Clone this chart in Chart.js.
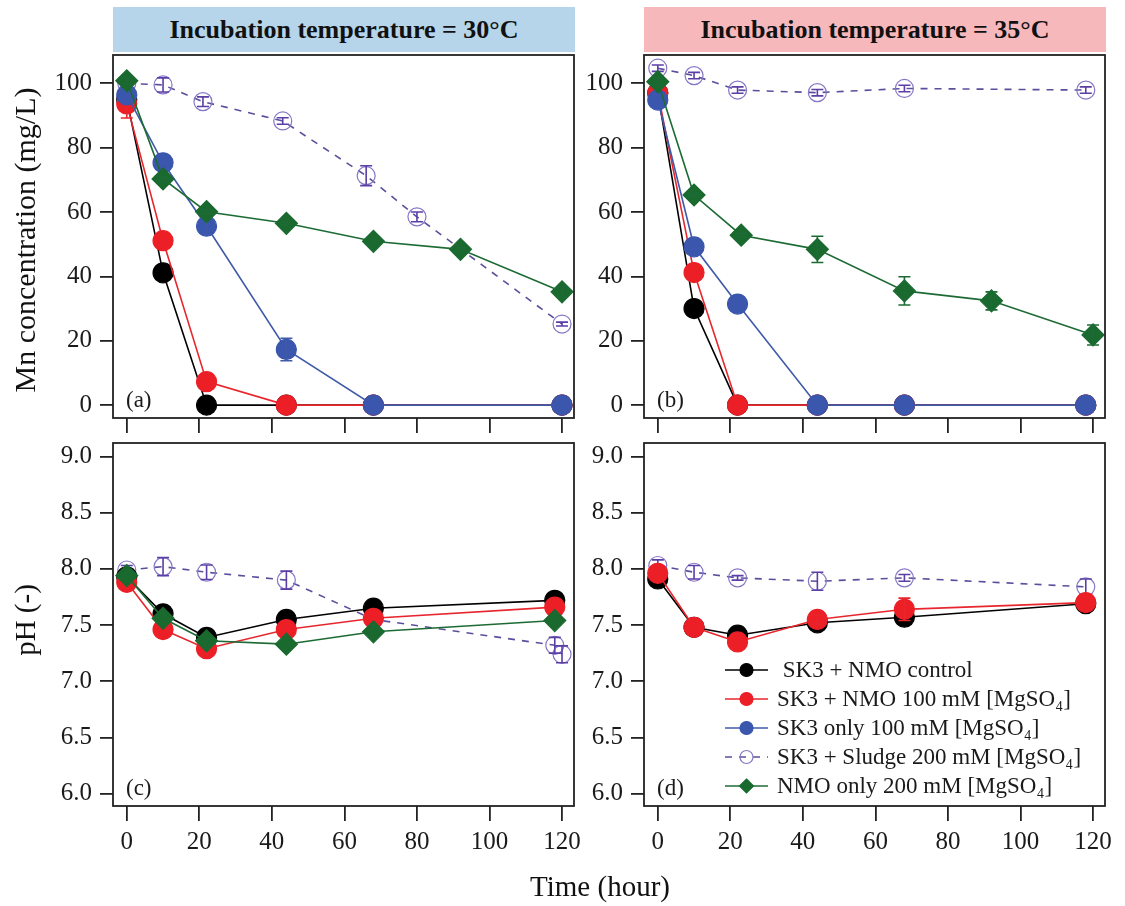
<!DOCTYPE html>
<html>
<head>
<meta charset="utf-8">
<title>Mn removal and pH</title>
<script src="https://cdn.jsdelivr.net/npm/chart.js@4.4.1/dist/chart.umd.min.js"></script>
<style>
  body { margin: 0; background: #fff; font-family: "Liberation Serif", "Times New Roman", serif; }
  #page { position: relative; width: 1125px; height: 906px; overflow: hidden; }
  canvas { position: absolute; left: 0; top: 0; }
  .head { position: absolute; top: 7px; height: 45px; width: 462px; line-height: 45px;
          text-align: center; font-weight: bold; font-size: 26px; color: #111; }
  .axis-title { position: absolute; font-size: 29px; color: #111; white-space: nowrap;
                transform: translate(-50%, -50%); }
  .vert { transform: translate(-50%, -50%) rotate(-90deg); }
</style>
</head>
<body>
<div id="page">
  <div class="head" id="head30" style="left:113px;background:#b6d5ea"></div>
  <div class="head" id="head35" style="left:644px;background:#f7b8bc"></div>
  <canvas id="mn30" width="1125" height="906"></canvas>
  <canvas id="mn35" width="1125" height="906"></canvas>
  <canvas id="ph30" width="1125" height="906"></canvas>
  <canvas id="ph35" width="1125" height="906"></canvas>
  <div class="axis-title vert" style="left:25px;top:240px;font-size:30px">Mn concentration (mg/L)</div>
  <div class="axis-title vert" style="left:25px;top:620px">pH (-)</div>
  <div class="axis-title" style="left:600px;top:886px">Time (hour)</div>
</div>
<script>
// ============ DATA ============

const headers = ["Incubation temperature = 30°C", "Incubation temperature = 35°C"];

const timeTicks = [0, 20, 40, 60, 80, 100, 120];
const mnTicks = [0, 20, 40, 60, 80, 100];
const phTicks = [6.0, 6.5, 7.0, 7.5, 8.0, 8.5, 9.0];

// Mn concentration, 30 °C
const mn30Time = [0, 10, 22, 44, 68, 120];
const mn30Control = [95, 41.1, 0, 0, 0, 0];
const mn30NmoMg = [93.6, 51.1, 7.3, 0, 0, 0];
const mn30NmoMgErr = [4.4, 0, 0, 0, 0, 0];
const mn30Sk3Mg = [96.4, 75.3, 55.6, 17.3, 0, 0];
const mn30Sk3MgErr = [0, 0, 2.5, 3.5, 0, 0];
const mn30SludgeTime = [0, 10, 21, 43, 66, 80, 120];
const mn30Sludge = [100, 99.5, 94.3, 88.3, 71.3, 58.5, 25.2];
const mn30SludgeErr = [1, 2.2, 1.5, 1, 3.1, 1.5, 0.6];
const mn30NmoOnlyTime = [0, 10, 22, 44, 68, 92, 120];
const mn30NmoOnly = [100.8, 70.3, 60.1, 56.5, 50.9, 48.4, 35.2];
const mn30NmoOnlyErr = [1, 0.5, 0.5, 0.5, 0.5, 0.5, 1.5];

// Mn concentration, 35 °C
const mn35Time = [0, 10, 22, 44, 68, 118];
const mn35Control = [97, 30, 0, 0, 0, 0];
const mn35NmoMg = [97, 41.2, 0, 0, 0, 0];
const mn35Sk3Mg = [94.8, 49.2, 31.4, 0, 0, 0];
const mn35Sludge = [104.7, 102.4, 97.9, 97.1, 98.4, 97.9];
const mn35SludgeErr = [1, 1, 1, 1, 1, 1];
const mn35NmoOnlyTime = [0, 10, 23, 44, 68, 92, 120];
const mn35NmoOnly = [100.5, 65.3, 52.8, 48.4, 35.5, 32.4, 21.8];
const mn35NmoOnlyErr = [1, 0.5, 0.5, 4.1, 4.4, 2.8, 3.1];

// pH, 30 °C
const ph30Time = [0, 10, 22, 44, 68, 118];
const ph30Control = [7.93, 7.60, 7.39, 7.55, 7.65, 7.72];
const ph30NmoMg = [7.88, 7.46, 7.29, 7.46, 7.56, 7.66];
const ph30NmoOnly = [7.94, 7.56, 7.36, 7.33, 7.44, 7.54];
const ph30SludgeTime = [0, 10, 22, 44, 68, 118, 120];
const ph30Sludge = [7.99, 8.02, 7.97, 7.90, 7.55, 7.32, 7.24];
const ph30SludgeErr = [0.04, 0.08, 0.065, 0.08, 0.03, 0.07, 0.075];

// pH, 35 °C
const ph35Time = [0, 10, 22, 44, 68, 118];
const ph35Control = [7.91, 7.48, 7.41, 7.52, 7.57, 7.69];
const ph35NmoMg = [7.96, 7.48, 7.35, 7.55, 7.64, 7.70];
const ph35NmoMgErr = [0, 0, 0, 0.04, 0.1, 0];
const ph35Sludge = [8.03, 7.97, 7.92, 7.89, 7.92, 7.84];
const ph35SludgeErr = [0.05, 0.06, 0.02, 0.08, 0.03, 0.07];

// ============ STYLES ============

const PAGE_W = 1125, PAGE_H = 906;
const Y_AXIS_W = 70;
const FONT = '"Liberation Serif", "Times New Roman", serif';
const INK = "#1a1a1a";

const styles = {
    control: { label: " SK3 + NMO control", line: "#000000", fill: "#000000", edge: "#000000",
               point: "circle", radius: 10, order: 4 },
    nmoMg: { label: "SK3 + NMO 100 mM [MgSO\u2084]", line: "#e8262d", fill: "#ec1f27", edge: "#ec1f27",
             point: "circle", radius: 10, order: 3 },
    sk3Mg: { label: "SK3 only 100 mM [MgSO\u2084]", line: "#3f5aa8", fill: "#3a56ad", edge: "#3a56ad",
             point: "circle", radius: 10, order: 2 },
    sludge: { label: "SK3 + Sludge 200 mM [MgSO\u2084]", line: "#5a4f9c", fill: "rgba(255,255,255,0)",
              edge: "#8677c6", point: "circle", radius: 9, order: 5, dash: [7, 7], err: "#5b3ea6" },
    nmoOnly: { label: "NMO only 200 mM [MgSO\u2084]", line: "#1d6b34", fill: "#1a6a30", edge: "#1a6a30",
               point: "rectRot", radius: 11, order: 1 },
};
const legendOrder = ["control", "nmoMg", "sk3Mg", "sludge", "nmoOnly"];

const boxes = {
    mn30: { left: 113, right: 574, top: 55, bottom: 418 },
    mn35: { left: 644, right: 1105, top: 55, bottom: 418 },
    ph30: { left: 113, right: 574, top: 443, bottom: 806 },
    ph35: { left: 644, right: 1105, top: 443, bottom: 806 },
};

// ============ PLUGINS ============

// closed frame around the plot plus the panel tag in the lower-left corner
const framePlugin = {
    id: "frame",
    afterDraw(chart, args, opts) {
        const { ctx, chartArea: a } = chart;
        ctx.save();
        ctx.strokeStyle = "#222";
        ctx.lineWidth = 1.8;
        ctx.strokeRect(a.left, a.top, a.right - a.left, a.bottom - a.top);
        ctx.fillStyle = INK;
        ctx.font = "23px " + FONT;
        ctx.textBaseline = "alphabetic";
        ctx.fillText(opts.tag, a.left + 13, a.bottom - 11);
        ctx.restore();
    }
};

// vertical error bars with caps, from the dataset's errors array
const errorBarPlugin = {
    id: "errorBars",
    afterDatasetDraw(chart, args) {
        const ds = chart.data.datasets[args.index];
        if (!ds.errors) return;
        const y = chart.scales.y;
        const ctx = chart.ctx;
        ctx.save();
        ctx.strokeStyle = ds.errorColor;
        ctx.lineWidth = 1.6;
        args.meta.data.forEach((pt, i) => {
            const e = ds.errors[i];
            if (!e) return;
            const v = ds.data[i].y;
            const top = y.getPixelForValue(v + e);
            const bot = y.getPixelForValue(v - e);
            ctx.beginPath();
            ctx.moveTo(pt.x, top); ctx.lineTo(pt.x, bot);
            ctx.moveTo(pt.x - 6, top); ctx.lineTo(pt.x + 6, top);
            ctx.moveTo(pt.x - 6, bot); ctx.lineTo(pt.x + 6, bot);
            ctx.stroke();
        });
        ctx.restore();
    }
};

function drawMarker(ctx, st, x, y, r) {
    ctx.beginPath();
    if (st.point === "rectRot") {
        ctx.moveTo(x, y - r); ctx.lineTo(x + r, y); ctx.lineTo(x, y + r); ctx.lineTo(x - r, y);
        ctx.closePath();
    } else {
        ctx.arc(x, y, r, 0, Math.PI * 2);
    }
    ctx.fillStyle = st.fill;
    ctx.fill();
    ctx.strokeStyle = st.edge;
    ctx.lineWidth = 1.2;
    ctx.stroke();
}

// line + marker legend placed inside the plot area
const legendPlugin = {
    id: "seriesLegend",
    afterDraw(chart, args, opts) {
        const { ctx, chartArea: a } = chart;
        ctx.save();
        ctx.font = "23px " + FONT;
        ctx.textBaseline = "middle";
        legendOrder.forEach((key, i) => {
            const st = styles[key];
            const x0 = a.left + opts.x, x1 = x0 + opts.sample;
            const y = a.top + opts.y + i * opts.row;
            ctx.strokeStyle = st.line;
            ctx.lineWidth = 1.6;
            ctx.setLineDash(st.dash || []);
            ctx.beginPath(); ctx.moveTo(x0, y); ctx.lineTo(x1, y); ctx.stroke();
            ctx.setLineDash([]);
            drawMarker(ctx, st, (x0 + x1) / 2, y, st.point === "rectRot" ? 7 : 6.5);
            ctx.fillStyle = INK;
            ctx.fillText(st.label, x1 + 9, y + 1);
        });
        ctx.restore();
    }
};

// ============ CHARTS ============

function makeDataset(key, time, values, errors) {
    const st = styles[key];
    return {
        label: st.label,
        data: time.map((t, i) => ({ x: t, y: values[i] })),
        errors: errors || null,
        errorColor: st.err || st.line,
        borderColor: st.line,
        borderWidth: 1.6,
        borderDash: st.dash || [],
        pointStyle: st.point,
        pointRadius: st.radius,
        pointBackgroundColor: st.fill,
        pointBorderColor: st.edge,
        pointBorderWidth: 1.2,
        order: st.order,
        tension: 0,
        fill: false,
        clip: false,
    };
}

function makePanel(id, yRange, yTicks, yFormat, showX, datasets, tag, legend) {
    const box = boxes[id];
    const xH = showX ? 60 : 16;
    const tickFont = { family: FONT, size: 25 };
    const plugins = [errorBarPlugin, framePlugin];
    if (legend) plugins.push(legendPlugin);

    return new Chart(document.getElementById(id), {
        type: "line",
        data: { datasets },
        plugins,
        options: {
            responsive: false,
            animation: false,
            devicePixelRatio: 1,
            layout: {
                padding: {
                    left: box.left - Y_AXIS_W,
                    top: box.top,
                    right: PAGE_W - box.right,
                    bottom: PAGE_H - box.bottom - xH,
                }
            },
            scales: {
                x: {
                    type: "linear",
                    min: -3.8,
                    max: 123.3,
                    afterBuildTicks: s => { s.ticks = timeTicks.map(v => ({ value: v })); },
                    afterFit: s => { s.height = xH; },
                    ticks: { display: showX, font: tickFont, color: INK, padding: 6,
                             autoSkip: false, maxRotation: 0 },
                    grid: { drawOnChartArea: false, drawTicks: true, tickLength: 15,
                            color: "#222", lineWidth: 1.8 },
                    border: { display: false },
                },
                y: {
                    type: "linear",
                    min: yRange[0],
                    max: yRange[1],
                    afterBuildTicks: s => { s.ticks = yTicks.map(v => ({ value: v })); },
                    afterFit: s => { s.width = Y_AXIS_W; },
                    ticks: { font: tickFont, color: INK, padding: 8, autoSkip: false,
                             callback: yFormat },
                    grid: { drawOnChartArea: false, drawTicks: true, tickLength: 13,
                            color: "#222", lineWidth: 1.8 },
                    border: { display: false },
                }
            },
            plugins: {
                legend: { display: false },
                tooltip: { enabled: false },
                frame: { tag },
                seriesLegend: legend || {},
            }
        }
    });
}

const mnRange = [-4, 108.8];
const phRange = [5.89, 9.12];
const intLabel = v => String(v);
const phLabel = v => Number(v).toFixed(1);

document.getElementById("head30").textContent = headers[0];
document.getElementById("head35").textContent = headers[1];

makePanel("mn30", mnRange, mnTicks, intLabel, false, [
    makeDataset("control", mn30Time, mn30Control),
    makeDataset("nmoMg", mn30Time, mn30NmoMg, mn30NmoMgErr),
    makeDataset("sk3Mg", mn30Time, mn30Sk3Mg, mn30Sk3MgErr),
    makeDataset("sludge", mn30SludgeTime, mn30Sludge, mn30SludgeErr),
    makeDataset("nmoOnly", mn30NmoOnlyTime, mn30NmoOnly, mn30NmoOnlyErr),
], "(a)");

makePanel("mn35", mnRange, mnTicks, intLabel, false, [
    makeDataset("control", mn35Time, mn35Control),
    makeDataset("nmoMg", mn35Time, mn35NmoMg),
    makeDataset("sk3Mg", mn35Time, mn35Sk3Mg),
    makeDataset("sludge", mn35Time, mn35Sludge, mn35SludgeErr),
    makeDataset("nmoOnly", mn35NmoOnlyTime, mn35NmoOnly, mn35NmoOnlyErr),
], "(b)");

makePanel("ph30", phRange, phTicks, phLabel, true, [
    makeDataset("control", ph30Time, ph30Control),
    makeDataset("nmoMg", ph30Time, ph30NmoMg),
    makeDataset("sludge", ph30SludgeTime, ph30Sludge, ph30SludgeErr),
    makeDataset("nmoOnly", ph30Time, ph30NmoOnly),
], "(c)");

makePanel("ph35", phRange, phTicks, phLabel, true, [
    makeDataset("control", ph35Time, ph35Control),
    makeDataset("nmoMg", ph35Time, ph35NmoMg, ph35NmoMgErr),
    makeDataset("sludge", ph35Time, ph35Sludge, ph35SludgeErr),
], "(d)", { x: 81, y: 227, row: 29, sample: 43 });
</script>
</body>
</html>
